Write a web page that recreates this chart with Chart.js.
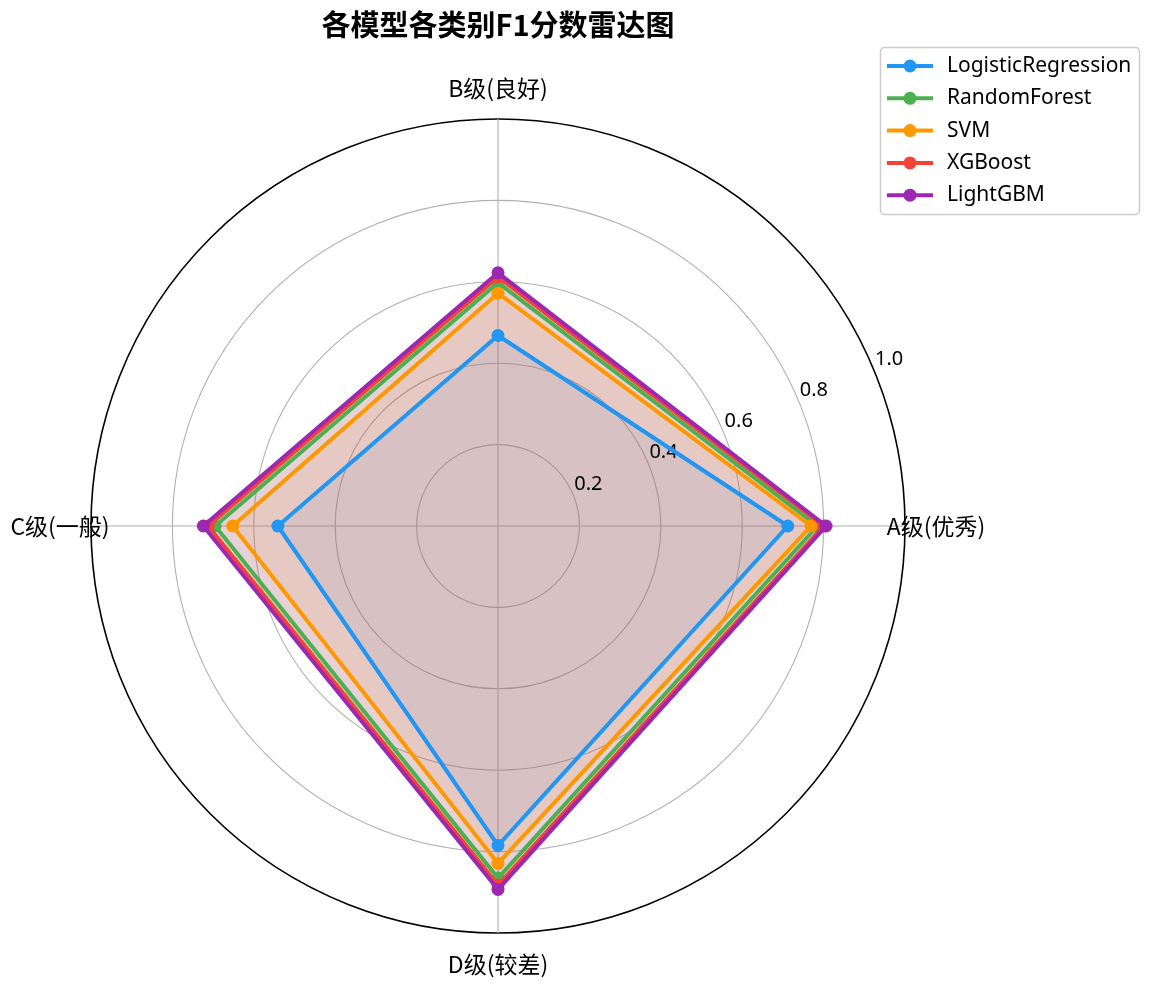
<!DOCTYPE html>
<html>
<head>
<meta charset="utf-8">
<script src="https://cdn.jsdelivr.net/npm/chart.js@4.4.1/dist/chart.umd.min.js"></script>
<style>
  html, body { margin: 0; padding: 0; background: #fff; }
  #wrap { width: 1155px; height: 985px; }
</style>
</head>
<body>
<div id="wrap"><canvas id="radarChart" width="1155" height="985"></canvas></div>
<script>
// categories listed clockwise from the top, as Chart.js walks them
const categories = ['B级(良好)', 'A级(优秀)', 'D级(较差)', 'C级(一般)']
const model_names = ['LogisticRegression', 'RandomForest', 'SVM', 'XGBoost', 'LightGBM']
const tick_values = [0, 0.2, 0.4, 0.6, 0.8, 1.0]

// F1 per category, same order as categories (B, A, D, C)
const f1_logistic = [0.468, 0.712, 0.785, 0.541]
const f1_forest = [0.598, 0.785, 0.865, 0.695]
const f1_svm = [0.572, 0.769, 0.829, 0.652]
const f1_xgboost = [0.612, 0.800, 0.882, 0.712]
const f1_lightgbm = [0.622, 0.806, 0.893, 0.724]

const model_scores = [f1_logistic, f1_forest, f1_svm, f1_xgboost, f1_lightgbm]
const model_colors = ['#2196F3', '#4CAF50', '#FF9800', '#F44336', '#9C27B0']

function withAlpha(hex, a) {
  const n = parseInt(hex.slice(1), 16)
  return 'rgba(' + (n >> 16) + ',' + ((n >> 8) & 255) + ',' + (n & 255) + ',' + a + ')'
}

const latinFont = '"Noto Sans", "Noto Sans CJK SC", sans-serif'
const cjkFont = '"Noto Sans CJK SC", "Noto Sans", sans-serif'

datasets = []
model_names.forEach(function(name, i) {
  datasets.push({
    label: name,
    data: model_scores[i],
    borderColor: model_colors[i],
    backgroundColor: withAlpha(model_colors[i], 0.1),
    pointBackgroundColor: model_colors[i],
    pointBorderWidth: 0,
    pointRadius: 6.5,
    borderWidth: 4,
    fill: 'origin',
    order: model_names.length - i,
  })
});

// tick labels at 22.5 deg and the category labels, under the data
const radialLabels = {
  id: 'radialLabels',
  beforeDatasetsDraw(chart) {
    const ctx = chart.ctx
    const r = chart.scales.r
    ctx.save()
    ctx.fillStyle = '#000'
    ctx.font = '20px ' + latinFont
    ctx.textAlign = 'left'
    ctx.textBaseline = 'bottom'
    const ang = 22.5 * Math.PI / 180
    r.ticks.forEach(function(t) {
      if (t.value === 0) return
      const d = r.getDistanceFromCenterForValue(t.value)
      ctx.fillText(t.value.toFixed(1), r.xCenter + d * Math.cos(ang) + 1, r.yCenter - d * Math.sin(ang) - 1)
    });
    ctx.font = '23px ' + cjkFont
    ctx.textAlign = 'center'
    ctx.textBaseline = 'middle'
    chart.data.labels.forEach(function(lbl, i) {
      const p = r.getPointPosition(i, r.drawingArea + 31)
      ctx.fillText(lbl, p.x, p.y)
    });
    ctx.restore()
  }
}

const boxLegend = {
  id: 'boxLegend',
  afterDraw(chart) {
    const ctx = chart.ctx
    ctx.save()
    ctx.fillStyle = 'rgba(255,255,255,0.8)'
    ctx.strokeStyle = '#cccccc'
    ctx.lineWidth = 1.5
    ctx.beginPath()
    ctx.roundRect(880.5, 47.5, 259, 167, 4)
    ctx.fill()
    ctx.stroke()
    ctx.font = '21px ' + latinFont
    ctx.textAlign = 'left'
    ctx.textBaseline = 'middle'
    chart.data.datasets.forEach(function(ds, i) {
      const y = 66 + i * 32.3
      ctx.strokeStyle = ds.borderColor
      ctx.lineWidth = 4
      ctx.beginPath()
      ctx.moveTo(887, y)
      ctx.lineTo(933, y)
      ctx.stroke()
      ctx.fillStyle = ds.borderColor
      ctx.beginPath()
      ctx.arc(910, y, 6.5, 0, Math.PI * 2)
      ctx.fill()
      ctx.fillStyle = '#000'
      ctx.fillText(ds.label, 947, y)
    });
    ctx.restore()
  }
}

new Chart(document.getElementById('radarChart'), {
  type: 'radar',
  data: { labels: categories, datasets: datasets },
  plugins: [radialLabels, boxLegend],
  options: {
    responsive: false,
    animation: false,
    layout: { padding: { left: 91, right: 250, top: 0, bottom: 52 } },
    elements: { line: { tension: 0 } },
    plugins: {
      legend: { display: false },
      tooltip: { enabled: false },
      filler: { drawTime: 'beforeDatasetsDraw' },
      title: {
        display: true,
        text: '各模型各类别F1分数雷达图',
        color: '#000',
        font: { family: cjkFont, size: 29, weight: 'bold', lineHeight: 1.2 },
        padding: { top: 8, bottom: 76.2 },
      },
    },
    scales: {
      r: {
        min: 0,
        max: 1,
        ticks: { display: false, stepSize: 0.2 },
        pointLabels: { display: false },
        grid: {
          circular: true,
          color: (c) => c.tick && c.tick.value === 1 ? '#000' : '#b0b0b0',
          lineWidth: (c) => c.tick && c.tick.value === 1 ? 1.6 : 1.1,
        },
        angleLines: { color: '#b0b0b0', lineWidth: 1.1 },
      }
    }
  }
});
</script>
</body>
</html>
